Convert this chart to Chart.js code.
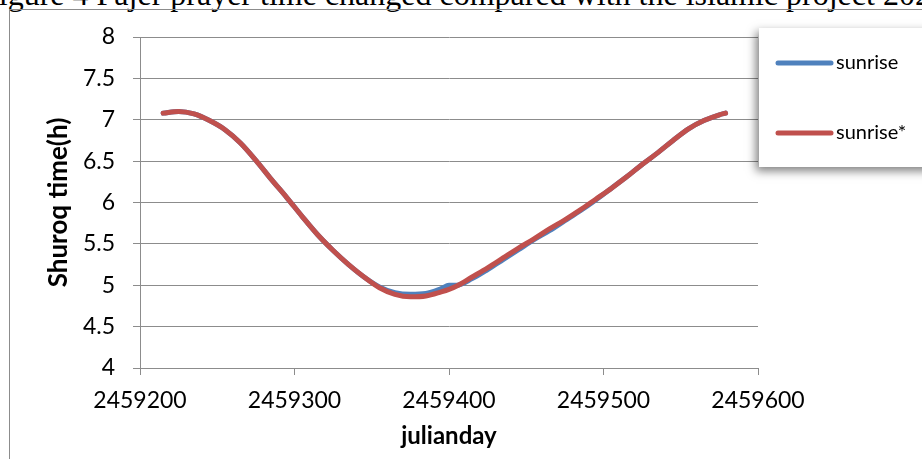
<!DOCTYPE html>
<html lang="en">
<head>
  <meta charset="UTF-8">
  <title>Shuroq time</title>
  <script src="https://cdn.jsdelivr.net/npm/chart.js"></script>
  <style>
    body {
      margin: 0;
      padding: 0;
      background: #fff;
      width: 922px;
      height: 459px;
      overflow: hidden;
      position: relative;
    }
    #caption {
      position: absolute;
      left: -19px;
      top: -22px;
      font-family: "Liberation Serif", "Times New Roman", serif;
      font-size: 32px;
      line-height: 32px;
      white-space: nowrap;
      color: #000;
    }
    #frame {
      position: absolute;
      left: 9px;
      top: 9px;
      width: 1000px;
      height: 600px;
      border: 1px solid #8c8c8c;
    }
    #chart {
      position: absolute;
      left: 0;
      top: 0;
    }
  </style>
</head>
<body>

  <div id="caption">Figure 4 Fajer prayer time changed compared with the islamic project 2021</div>
  <div id="frame"></div>
  <canvas id="chart" width="922" height="459"></canvas>

  <script>
    // julian day of each reading
    const julianDays = [
      2459215, 2459225, 2459235, 2459245, 2459255, 2459265, 2459275, 2459285, 2459295, 2459305,
      2459315, 2459325, 2459335, 2459345, 2459355, 2459365, 2459375, 2459385, 2459395, 2459400,
      2459405, 2459415, 2459425, 2459435, 2459445, 2459455, 2459465, 2459475, 2459485, 2459495,
      2459505, 2459515, 2459525, 2459535, 2459545, 2459555, 2459565, 2459575, 2459579
    ];
    // sunrise (hours)
    const sunrise = [
      7.08, 7.10, 7.07, 6.99, 6.88, 6.72, 6.51, 6.28, 6.06, 5.83,
      5.61, 5.42, 5.25, 5.10, 4.98, 4.91, 4.89, 4.90, 4.96, 5.00,
      5.00, 5.08, 5.19, 5.31, 5.43, 5.55, 5.66, 5.78, 5.90, 6.03,
      6.17, 6.31, 6.46, 6.60, 6.75, 6.89, 6.99, 7.06, 7.08
    ];
    // sunrise* (hours)
    const sunriseStar = [
      7.08, 7.10, 7.07, 6.99, 6.88, 6.72, 6.51, 6.28, 6.06, 5.83,
      5.61, 5.42, 5.25, 5.10, 4.97, 4.89, 4.86, 4.87, 4.92, 4.95,
      4.99, 5.10, 5.21, 5.33, 5.45, 5.56, 5.68, 5.79, 5.91, 6.04,
      6.17, 6.31, 6.46, 6.60, 6.75, 6.89, 6.99, 7.06, 7.08
    ];
    const seriesNames = ['sunrise', 'sunrise*'];
    const xAxisTitle = 'julianday';
    const yAxisTitle = 'Shuroq time(h)';

    const gridColor = '#8c8c8c';

    Chart.defaults.font.family = 'Lato, "Open Sans", sans-serif';
    Chart.defaults.color = '#000';

    // boxed legend with a drop shadow, like the Excel one
    const boxLegend = {
      id: 'boxLegend',
      afterDraw(chart) {
        const ctx = chart.ctx;
        ctx.save();
        ctx.shadowColor = 'rgba(0,0,0,0.5)';
        ctx.shadowBlur = 9;
        ctx.shadowOffsetX = -3;
        ctx.shadowOffsetY = 4;
        ctx.fillStyle = '#fff';
        ctx.fillRect(759, 28, 220, 139);
        ctx.restore();

        chart.data.datasets.forEach((ds, i) => {
          const y = 63 + i * 70;
          ctx.save();
          ctx.strokeStyle = ds.borderColor;
          ctx.lineWidth = 5;
          ctx.lineCap = 'round';
          ctx.beginPath();
          ctx.moveTo(778, y);
          ctx.lineTo(831, y);
          ctx.stroke();
          ctx.fillStyle = '#000';
          ctx.font = '20px Lato, sans-serif';
          ctx.textBaseline = 'middle';
          ctx.fillText(ds.label, 836, y);
          ctx.restore();
        });
      }
    };

    const ctx = document.getElementById('chart').getContext('2d');
    new Chart(ctx, {
      type: 'line',
      data: {
        datasets: [
          {
            label: seriesNames[0],
            data: julianDays.map((d, i) => ({ x: d, y: sunrise[i] })),
            borderColor: '#4f81bd',
            borderWidth: 5,
            borderCapStyle: 'round',
            pointRadius: 0,
            cubicInterpolationMode: 'monotone',
            order: 1
          },
          {
            label: seriesNames[1],
            data: julianDays.map((d, i) => ({ x: d, y: sunriseStar[i] })),
            borderColor: '#c0504d',
            borderWidth: 5,
            borderCapStyle: 'round',
            pointRadius: 0,
            cubicInterpolationMode: 'monotone',
            order: 0
          }
        ]
      },
      options: {
        responsive: false,
        animation: false,
        layout: { padding: { left: 0, top: 37, right: 164, bottom: 0 } },
        plugins: {
          legend: { display: false },
          tooltip: { enabled: false }
        },
        scales: {
          x: {
            type: 'linear',
            min: 2459200,
            max: 2459600,
            afterFit: (scale) => { scale.height = 91; },
            ticks: {
              stepSize: 100,
              padding: 12,
              maxRotation: 0,
              font: { size: 23 },
              callback: (v) => String(v)
            },
            grid: {
              drawOnChartArea: false,
              drawTicks: true,
              tickLength: 7,
              color: gridColor
            },
            border: { display: true, color: gridColor },
            title: {
              display: true,
              text: xAxisTitle,
              font: { size: 24, weight: 'bold' },
              padding: { top: 0, bottom: 8 }
            }
          },
          y: {
            min: 4,
            max: 8,
            afterFit: (scale) => { scale.width = 140; },
            ticks: {
              stepSize: 0.5,
              padding: 18,
              font: { size: 23 },
              callback: (v) => String(v)
            },
            grid: {
              color: gridColor,
              tickLength: 7
            },
            border: { display: true, color: gridColor },
            title: {
              display: true,
              text: yAxisTitle,
              font: { size: 26, weight: 'bold' },
              padding: { top: 43, bottom: 0 }
            }
          }
        }
      },
      plugins: [boxLegend]
    });
  </script>

</body>
</html>
